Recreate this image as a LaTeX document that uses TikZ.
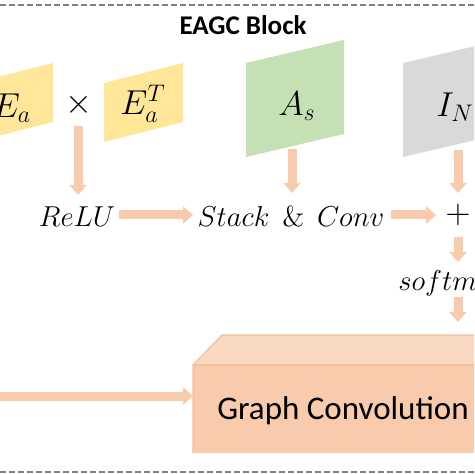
\documentclass[tikz,border=0pt]{standalone}
\usepackage[no-math]{fontspec}
\newfontfamily\calibfont{Carlito}
\usetikzlibrary{arrows.meta}
\definecolor{yel}{HTML}{FFE699}
\definecolor{grn}{HTML}{C5E0B4}
\definecolor{gry}{HTML}{D9D9D9}
\definecolor{arrowc}{HTML}{F8CBAD}
\definecolor{gcfront}{HTML}{F8CBAD}
\definecolor{gctop}{HTML}{FAD9C3}
\definecolor{gcedge}{HTML}{F4BE9C}
\definecolor{dashc}{HTML}{7F7F7F}
\tikzset{
  fat/.style={draw=arrowc, line width=4.5pt, -{Triangle[width=8.5pt,length=5pt]}},
  mtext/.style={inner sep=0pt, font=\fontsize{14}{16}\selectfont},
  btext/.style={inner sep=0pt, font=\fontsize{17}{20}\selectfont},
  sep/.style={draw=dashc, line width=1pt, dash pattern=on 3pt off 1.5pt},
}
\begin{document}
\begin{tikzpicture}[x=0.5pt,y=-0.5pt]
\useasboundingbox (0,0) rectangle (474,474);
\clip (0,0) rectangle (474,474);
% separators
\draw[sep] (0,5) -- (474,5);
\draw[sep] (0,472) -- (474,472);
% title
\node[inner sep=0pt, font=\calibfont\bfseries\fontsize{13.5}{16}\selectfont] (title) at (243,25) {EAGC Block};
% parallelograms
\fill[yel] (-26,83) -- (53,63) -- (53,122) -- (-26,142) -- cycle;
\fill[yel] (104,83) -- (183,63) -- (183,122) -- (104,142) -- cycle;
\fill[grn] (246,63) -- (344,40) -- (344,134) -- (246,157) -- cycle;
\fill[gry] (403,63) -- (501,40) -- (501,134) -- (403,157) -- cycle;
\node[btext] (ea) at (12,108) {$E_a$};
\node[btext] (times) at (79,105) {$\times$};
\node[btext] (eat) at (143,104) {$E_a^T$};
\node[btext] (as) at (297,106) {$A_s$};
\node[btext] (in) at (455,107) {$I_N$};
% operations
\node[mtext] (relu) at (77,217) {$ReLU$};
\node[mtext] (stack) at (291,217) {$Stack\;\,\&\;\,Conv$};
\node[btext] (plus) at (458,215) {$+$};
\node[mtext, anchor=west] (soft) at (398,283) {$softmax$};
% graph convolution box
\fill[gctop] (193,365) -- (222,335) -- (560,335) -- (530,365) -- cycle;
\fill[gcfront] (193,365) rectangle (530,453);
\draw[gcedge, line width=0.6pt] (193,453) -- (193,365) -- (222,335) -- (560,335);
\draw[gcedge, line width=0.6pt] (193,365) -- (530,365);
\node[inner sep=0pt, font=\calibfont\fontsize{16.5}{20}\selectfont] (gc) at (343,411) {Graph Convolution};
% arrow coordinates
\coordinate (a1s) at (78,126);  \coordinate (a1e) at (78,195);
\coordinate (a2s) at (292,149); \coordinate (a2e) at (292,193);
\coordinate (a3s) at (458,150); \coordinate (a3e) at (458,193);
\coordinate (h1s) at (119,215); \coordinate (h1e) at (193,215);
\coordinate (h2s) at (391,215); \coordinate (h2e) at (436,215);
\coordinate (v1s) at (458,237); \coordinate (v1e) at (458,262);
\coordinate (v2s) at (458,297); \coordinate (v2e) at (458,322);
\coordinate (ins) at (0,396);   \coordinate (ine) at (193,396);
\draw[fat] (a1s) -- (a1e);
\draw[fat] (a2s) -- (a2e);
\draw[fat] (a3s) -- (a3e);
\draw[fat] (h1s) -- (h1e);
\draw[fat] (h2s) -- (h2e);
\draw[fat] (v1s) -- (v1e);
\draw[fat] (v2s) -- (v2e);
\draw[fat] (ins) -- (ine);
\end{tikzpicture}
\end{document}
